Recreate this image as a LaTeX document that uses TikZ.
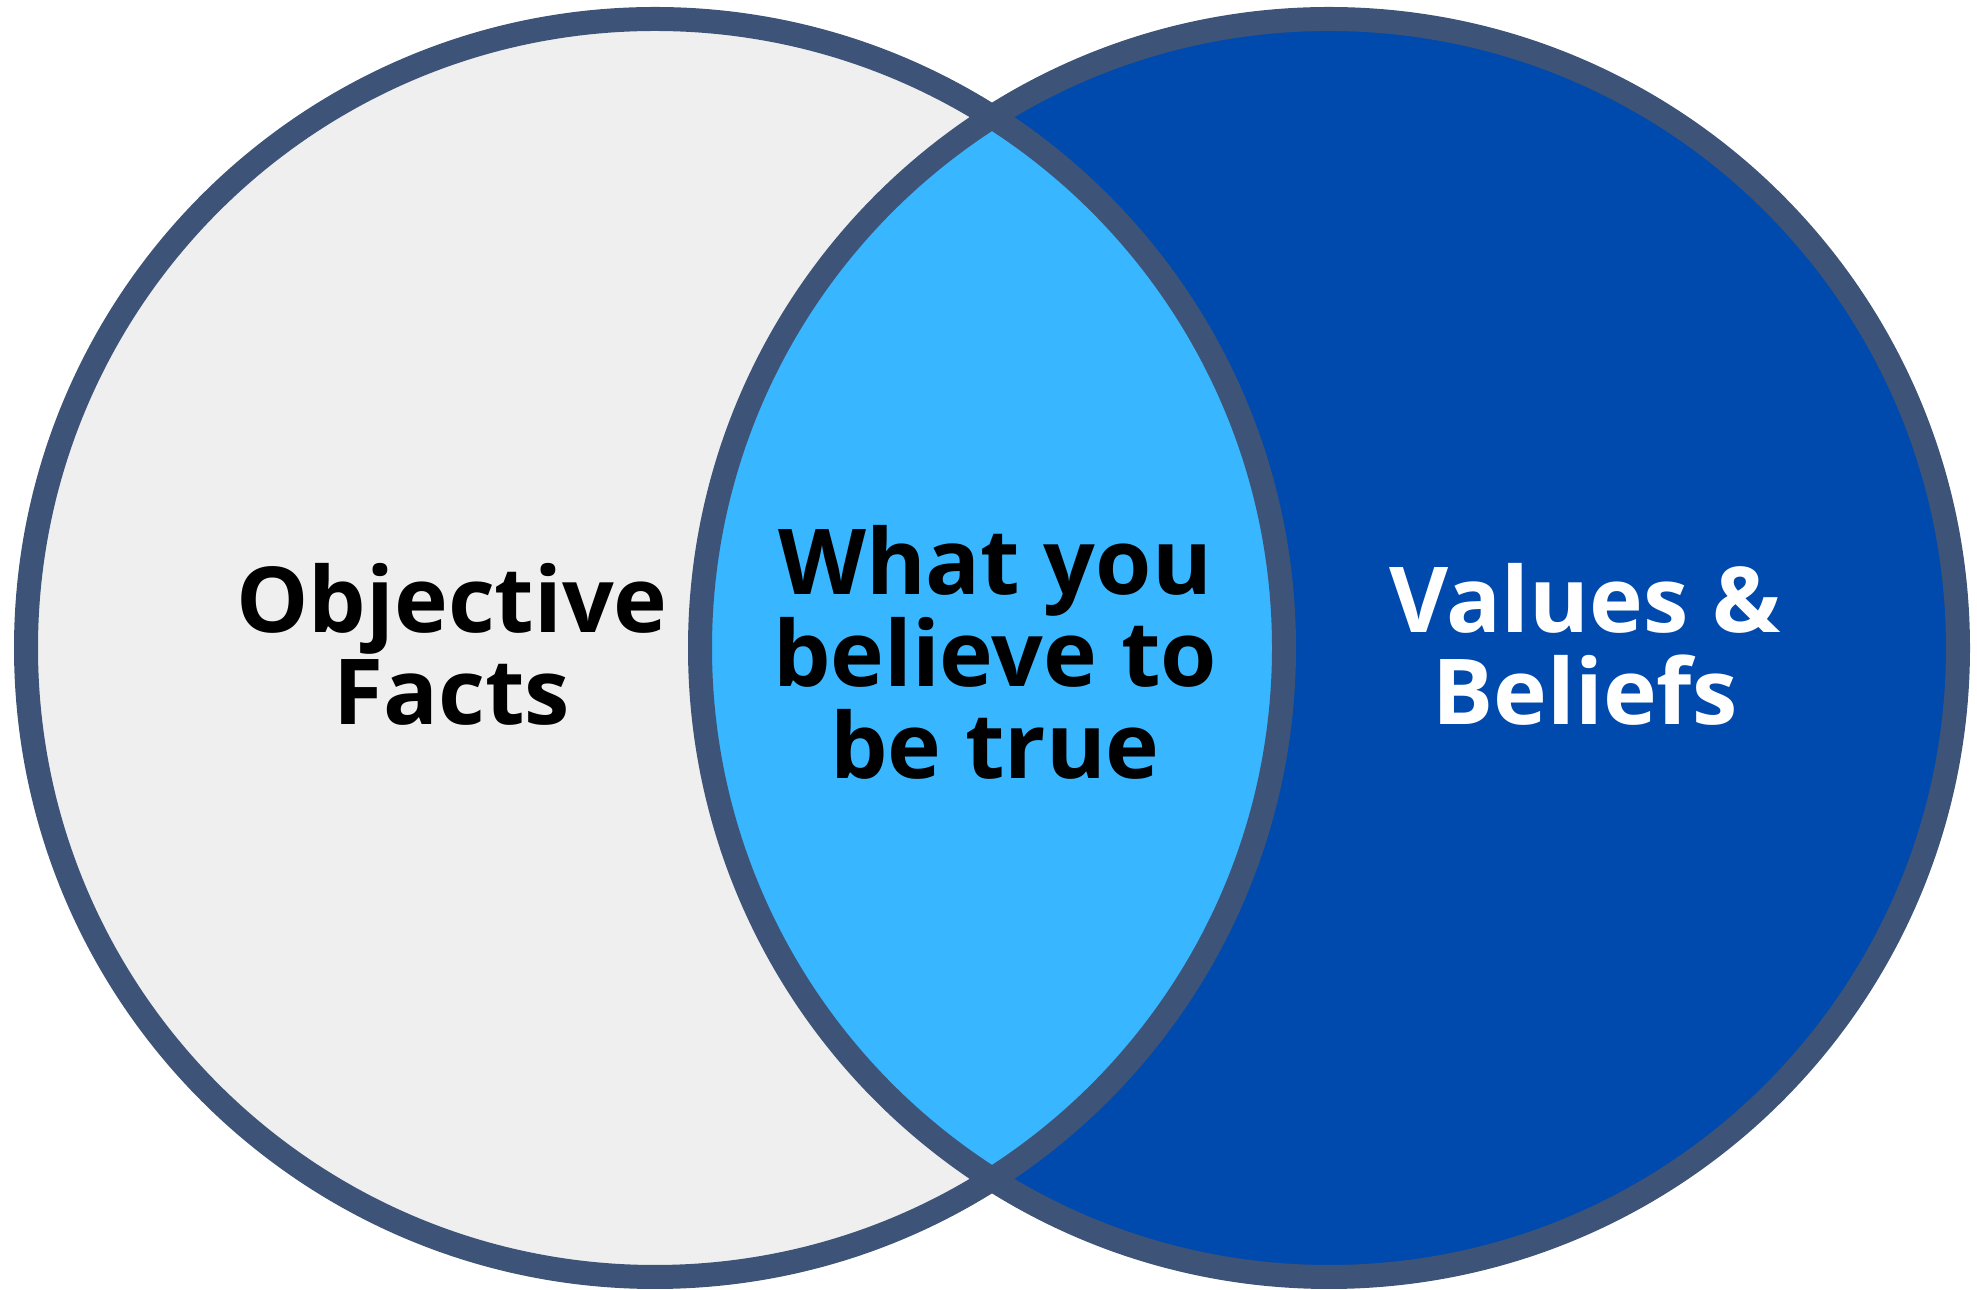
\documentclass[tikz,border=0pt]{standalone}
\usepackage{fontspec}
\setmainfont{Open Sans}
\usepackage{tikz}
\usetikzlibrary{positioning}
\definecolor{myrim}{HTML}{3D5478}
\definecolor{mygrey}{HTML}{EFEFEF}
\definecolor{mydark}{HTML}{004AAD}
\definecolor{mylight}{HTML}{38B6FF}
\tikzset{rim/.style={draw=myrim,line width=12pt}}
\tikzset{label/.style={font=\fontsize{45.5}{46}\selectfont\bfseries,align=center,inner sep=0pt}}

\begin{document}
\begin{tikzpicture}[x=0.5pt,y=0.5pt]
\useasboundingbox (0,0) rectangle (1977,1290);

% Define circle centres
\coordinate (cl) at (655,642);
\coordinate (cr) at (1329,642);

% Fill the circles
\fill[mygrey] (cl) circle (629);
\fill[mydark] (cr) circle (629);

% Fill the overlap
\begin{scope}
\clip (cl) circle (629);
\fill[mylight] (cr) circle (629);
\end{scope}

% Draw the rims
\path[rim] (cl) circle (629);
\path[rim] (cr) circle (629);

% Text nodes
\node[label] (facts) at (452,646) {Objective\\Facts};
\node[label] (overlap) at (995,638) {What you\\believe to\\be true};
\node[label,text=white] (beliefs) at (1585,646) {Values \&\\Beliefs};

\end{tikzpicture}
\end{document}
